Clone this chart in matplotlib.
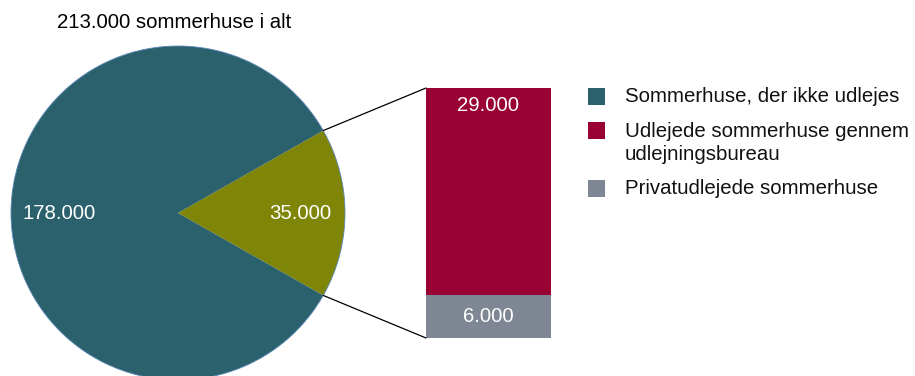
import numpy as np
import matplotlib
matplotlib.use("Agg")
import matplotlib.pyplot as plt
from matplotlib.patches import Rectangle, ConnectionPatch, Circle

plt.rcParams['font.family'] = ['Liberation Sans', 'DejaVu Sans']

# Data
title = "213.000 sommerhuse i alt"
pie_labels = ["Udlejede i alt", "Sommerhuse, der ikke udlejes"]
pie_values = [35000, 178000]
pie_texts = ["35.000", "178.000"]
bar_labels = ["Privatudlejede sommerhuse", "Udlejede sommerhuse gennem\nudlejningsbureau"]
bar_values = [6000, 29000]
bar_texts = ["6.000", "29.000"]
legend_labels = ["Sommerhuse, der ikke udlejes",
                 "Udlejede sommerhuse gennem\nudlejningsbureau",
                 "Privatudlejede sommerhuse"]

C_TEAL = "#2b616c"
C_OLIVE = "#7f8506"
C_RED = "#990033"
C_GREY = "#7f8794"

W, H = 915, 376
fig = plt.figure(figsize=(W / 100, H / 100), dpi=100)
ax = fig.add_axes([0, 0, 1, 1])

cx, cy, r = 178, H - 213, 167
total = sum(pie_values)
half = pie_values[0] / total * 360 / 2
wedges, _ = ax.pie(pie_values, colors=[C_OLIVE, C_TEAL], startangle=-half,
                   center=(cx, cy), radius=r, counterclock=True,
                   wedgeprops=dict(linewidth=0), frame=True)
for w in wedges:
    w.set_clip_on(False)
ax.add_patch(Circle((cx, cy), r, fill=False, edgecolor="#5a86b8", linewidth=0.6, clip_on=False))
ax.set_xlim(0, W)
ax.set_ylim(0, H)
ax.set_aspect('equal')
ax.axis('off')
fs = 14.7
ax.text(300.5, H - 213.5, pie_texts[0], color='white', fontsize=fs, ha='center', va='center')
ax.text(59, H - 213.5, pie_texts[1], color='white', fontsize=fs, ha='center', va='center')
ax.text(174, H - 22, title, color='black', fontsize=fs, ha='center', va='center')

# Bar axes
bx0, bx1, by_top, by_bot = 426, 551, 88, 338
bax = fig.add_axes([bx0 / W, (H - by_bot) / H, (bx1 - bx0) / W, (by_bot - by_top) / H])
bax.set_xlim(-0.5, 0.5)
bsum = sum(bar_values)
bax.set_ylim(0, bsum)
bax.axis('off')
bottom = 0
for v, c in zip(bar_values, [C_GREY, C_RED]):
    bax.bar(0, v, width=1, bottom=bottom, color=c, linewidth=0)
    bottom += v
bax.text(0, bar_values[0] / 2, bar_texts[0], color='white', fontsize=fs, ha='center', va='center')
bax.text(0, bsum * (1 - (105.5 - by_top) / (by_bot - by_top)),
         bar_texts[1], color='white', fontsize=fs, ha='center', va='center')

# Connecting lines
th = np.deg2rad(half)
p_top = (cx + r * np.cos(th), cy + r * np.sin(th))
p_bot = (cx + r * np.cos(th), cy - r * np.sin(th))
for p, yb in [(p_top, bsum), (p_bot, 0)]:
    con = ConnectionPatch(xyA=(-0.5, yb), coordsA=bax.transData, xyB=p, coordsB=ax.transData,
                          color='black', linewidth=0.9)
    fig.add_artist(con)

# Legend (manual)
entries = [(C_TEAL, legend_labels[0], 96.5, 97),
           (C_RED, legend_labels[1], 130, 143),
           (C_GREY, legend_labels[2], 188.5, 188.5)]
for col, lab, sq_y, txt_y in entries:
    ax.add_patch(Rectangle((588, H - sq_y - 8.5), 17, 17, color=col, linewidth=0))
    ax.text(625, H - txt_y, lab, fontsize=fs, ha='left', va='center', color='#111111',
            linespacing=1.22)

fig.savefig("out.png", dpi=100)
